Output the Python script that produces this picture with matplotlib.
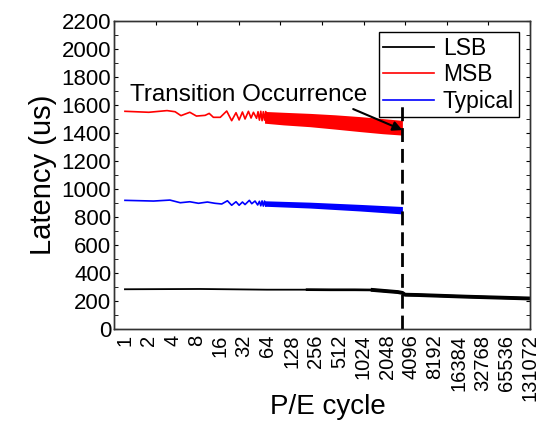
import matplotlib
matplotlib.use('Agg')
import matplotlib.pyplot as plt
from matplotlib.ticker import FixedLocator, MultipleLocator, NullFormatter
import numpy as np

plt.rcParams['font.family'] = ['Liberation Sans', 'DejaVu Sans']

# P/E cycle ticks (powers of two)
xtick_vals = [2 ** k for k in range(18)]
xtick_labels = [str(v) for v in xtick_vals]

# MSB: sparse wiggles, then dense oscillation band (upper / lower envelope)
msb_x = [1, 2, 3.4, 4.3, 5.1, 6.6, 8, 10.3, 11.6, 13.1, 16, 19.3, 22.3, 25.3,
         27.7, 30.5, 32.9, 36.3, 39.2, 42, 46, 48, 50, 52, 54, 56, 58, 60]
msb_y = [1555, 1548, 1560, 1552, 1524, 1548, 1521, 1526, 1540, 1512, 1512,
         1557, 1488, 1545, 1493, 1550, 1500, 1555, 1507, 1548, 1505, 1552,
         1492, 1555, 1488, 1552, 1492, 1552]
msb_band_x = [58, 100, 218, 450, 936, 1800, 3200]
msb_band_hi = [1554, 1548, 1540, 1530, 1517, 1503, 1490]
msb_band_lo = [1470, 1458, 1445, 1428, 1410, 1395, 1385]

# Typical
typ_x = [1, 2.3, 3.7, 5.0, 6.6, 8.5, 11, 13.7, 16.7, 19.7, 22.3, 25.3, 27.7,
         30.5, 32.9, 37.3, 40, 44, 47.5, 50, 52, 54, 56, 58, 60]
typ_y = [919, 914, 921, 902, 909, 898, 907, 898, 893, 916, 884, 909, 884,
         907, 889, 919, 895, 914, 886, 912, 880, 915, 878, 914, 880]
typ_band_x = [58, 218, 936, 3200]
typ_band_hi = [916, 906, 890, 875]
typ_band_lo = [877, 864, 843, 822]

# LSB
lsb_x = [1, 8.9, 62, 200, 400, 800, 1350, 2800, 3200, 3450, 5000, 20600, 131072]
lsb_y = [284, 286, 281, 281, 280, 280, 279, 264, 258, 245, 243, 231, 218]

transition_x = 3200

fig = plt.figure(figsize=(5.4, 4.24), dpi=100)
ax = fig.add_axes([0.2111, 0.224, 0.7704, 0.7265])

lx, ly = np.array(lsb_x), np.array(lsb_y)
ax.plot(lx, ly, color='black', lw=1.3, label='LSB')
ax.plot(lx[lx >= 200], ly[lx >= 200], color='black', lw=1.9)
ax.plot(lx[lx >= 1350], ly[lx >= 1350], color='black', lw=2.8)

ax.plot(msb_x, msb_y, color='red', lw=1.2, label='MSB')
ax.fill_between(msb_band_x, msb_band_lo, msb_band_hi, color='red', lw=0)

ax.plot(typ_x, typ_y, color='blue', lw=1.2, label='Typical')
ax.fill_between(typ_band_x, typ_band_lo, typ_band_hi, color='blue', lw=0)

ax.vlines(transition_x, 0, 1600, colors='black', linestyles=(0, (5, 2.5)),
          lw=2, zorder=6)

ax.text(1.15, 1671, 'Transition Occurrence', fontsize=17.5, ha='left',
        va='center')
ax.annotate('', xy=(transition_x, 1421), xytext=(765, 1571),
            arrowprops=dict(arrowstyle='-|>', color='black', lw=1.5,
                            mutation_scale=14, shrinkA=0, shrinkB=0))

ax.set_xscale('log', base=2)
ax.set_xlim(2 ** -0.46, 2 ** 17)
ax.set_ylim(0, 2200)
ax.xaxis.set_major_locator(FixedLocator(xtick_vals))
ax.xaxis.set_minor_locator(FixedLocator([]))
ax.set_xticklabels(xtick_labels, rotation=90, fontsize=14.5)
ax.yaxis.set_major_locator(MultipleLocator(200))
ax.yaxis.set_minor_locator(MultipleLocator(100))
ax.tick_params(axis='y', which='both', direction='in', right=True, length=3,
               labelsize=16, pad=2)
ax.tick_params(axis='x', which='both', length=0, pad=4)

# top spine ticks (linear, 10 divisions)
top = ax.twiny()
top.set_xlim(0, 10)
top.xaxis.set_major_locator(MultipleLocator(1))
top.xaxis.set_major_formatter(NullFormatter())
top.tick_params(axis='x', direction='in', length=3)

ax.set_xlabel('P/E cycle', fontsize=20)
ax.xaxis.set_label_coords(0.514, -0.253)
ax.xaxis.label.set_va('center')
ax.set_ylabel('Latency (us)', fontsize=21, labelpad=3)

for a in (ax, top):
    for s in a.spines.values():
        s.set_linewidth(1)
        s.set_color('#333333')

leg = ax.legend(loc='upper right', fontsize=16.5, frameon=True, fancybox=False,
                edgecolor='black', framealpha=1, handlelength=2.2,
                handletextpad=0.4, borderpad=0.2, labelspacing=0.15,
                borderaxespad=0.5)
leg.get_frame().set_linewidth(1)
leg.set_zorder(5)

fig.savefig('out.png', dpi=100)
